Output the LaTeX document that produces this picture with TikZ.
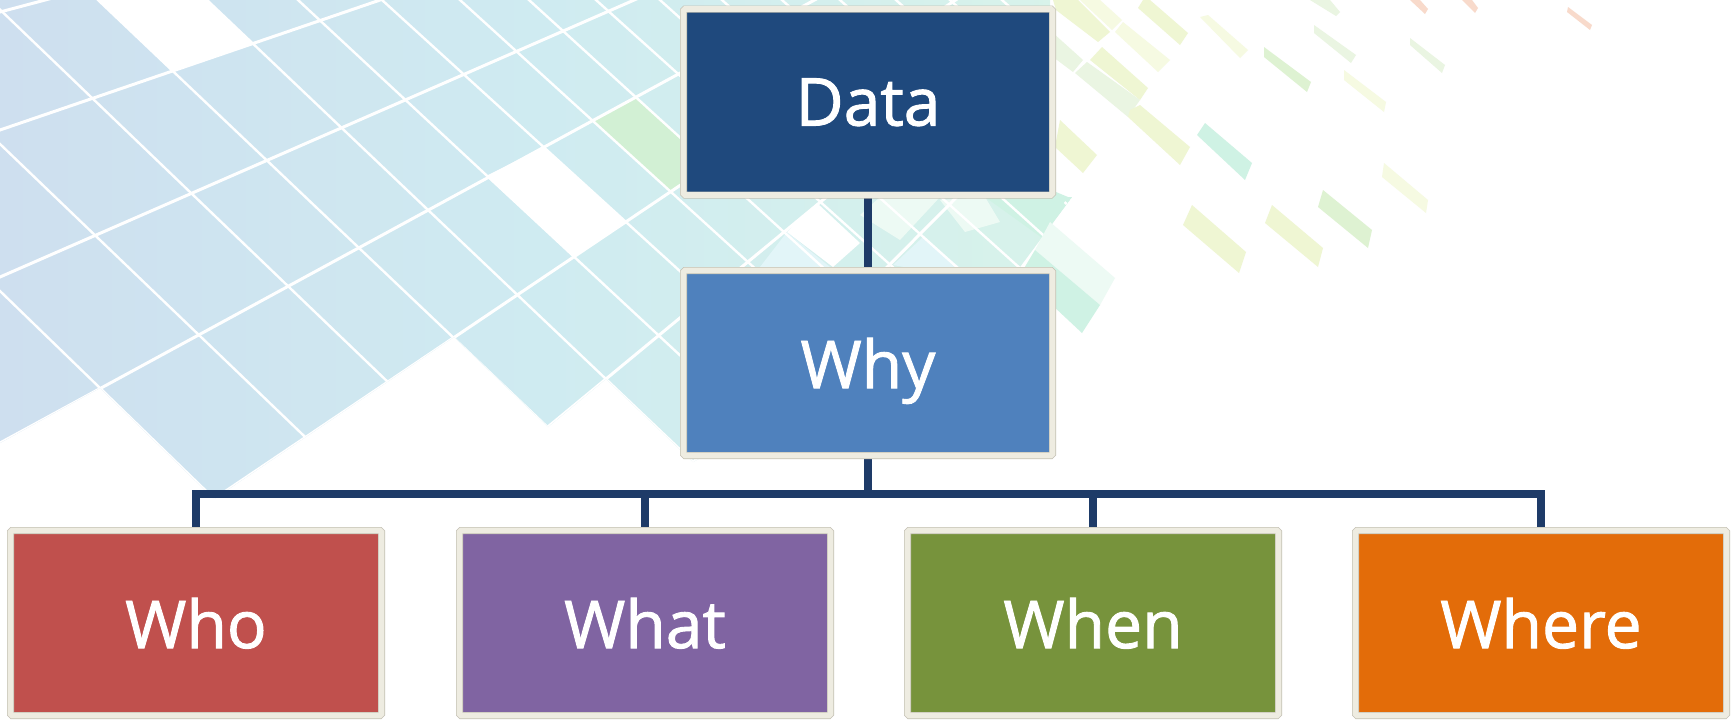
\documentclass[tikz,border=0pt]{standalone}
\usepackage{fontspec}
\setmainfont{Open Sans}[FakeBold=1.4]
\definecolor{cream}{HTML}{EEECE1}
\definecolor{edgegray}{HTML}{C4C1B4}
\definecolor{conncol}{HTML}{1E3B68}
\definecolor{cdata}{HTML}{1F497D}
\definecolor{cwhy}{HTML}{4F81BD}
\definecolor{cwho}{HTML}{C0504D}
\definecolor{cwhat}{HTML}{8064A2}
\definecolor{cwhen}{HTML}{77933C}
\definecolor{cwhere}{HTML}{E36C09}
\definecolor{mblue}{HTML}{CEDFEF}
\definecolor{mcyan}{HTML}{CFEBF1}
\definecolor{mmint}{HTML}{D8F3EA}
\definecolor{tgreen}{HTML}{D2F0D4}
\definecolor{tmint}{HTML}{CFF2E4}
\definecolor{tmintl}{HTML}{EDFAF4}
\definecolor{tyel}{HTML}{EFF6D3}
\definecolor{tyell}{HTML}{F6FAE2}
\definecolor{tgrn2}{HTML}{DEF2D2}
\definecolor{tgrnl}{HTML}{EAF5E2}
\definecolor{torange}{HTML}{F8DACB}
\definecolor{tcyanl}{HTML}{E2F5F8}
\pgfdeclarehorizontalshading{mos}{100bp}{color(0bp)=(mblue); color(25bp)=(mblue); color(50bp)=(mcyan); color(75bp)=(mmint); color(100bp)=(mmint)}
\pgfdeclarelayer{background}
\pgfsetlayers{background,main}
\tikzset{
  box/.style={rectangle, draw=edgegray, double=cream, double distance=5.6pt,
    line width=0.7pt, inner sep=0pt, text=white, rounded corners=1.5pt,
    text depth=0pt, font=\fontsize{66}{72}\selectfont},
  topbox/.style={box, minimum width=369pt, minimum height=186pt},
  lowbox/.style={box, minimum width=371pt, minimum height=185pt},
  conn/.style={draw=conncol, line width=8pt, line join=miter},
  wlineA/.style={draw=white, line width=2.4pt},
  wlineB/.style={draw=white, line width=3pt},
}
\begin{document}
\begin{tikzpicture}[x=1pt,y=-1pt]
\useasboundingbox (0,0) rectangle (1734,721);

% ---------- nodes ----------
\node[topbox, fill=cdata] (data) at (868,102) {Data};
\node[topbox, fill=cwhy, minimum height=185pt] (why) at (868,363) {Why};
\node[lowbox, fill=cwho] (who) at (196,623) {Who};
\node[lowbox, fill=cwhat] (what) at (645,623) {What};
\node[lowbox, fill=cwhen] (when) at (1093,623) {When};
\node[lowbox, fill=cwhere] (where) at (1541,623) {Where};
\coordinate (bus) at (868,494);

\begin{pgfonlayer}{background}
\fill[white] (0,0) rectangle (1734,721);
% ---------- background mosaic ----------
\begin{scope}
\clip (0,0) -- (1050,0) -- (1050,197) -- (1072,197) -- (1020,267) -- (900,350) -- (693,462) -- (606,379) -- (548,427) -- (454,337) -- (214,499) -- (100,388) -- (0,443) -- cycle;
\shade[shading=mos] (0,0) -- (1050,0) -- (1050,197) -- (1072,197) -- (1020,267) -- (900,350) -- (693,462) -- (606,379) -- (548,427) -- (454,337) -- (214,499) -- (100,388) -- (0,443) -- cycle;
\fill[tgreen] (592,121) -- (636,97) -- (710,165) -- (671,192) -- cycle;
\fill[tcyanl] (760,267) -- (787,232) -- (830,267) -- cycle;
\fill[tmintl] (880,197) -- (940,197) -- (900,240) -- (860,215) -- cycle;
\fill[tmint] (985,197) -- (1072,197) -- (1045,240) -- cycle;
\fill[white] (98,0) -- (207,0) -- (252.8,43.5) -- (171.5,71) -- cycle;
\fill[white] (486,176) -- (544,147) -- (626,222) -- (574,257) -- cycle;
\fill[white] (787,232) -- (817,203) -- (860,243) -- (833,267) -- cycle;
\fill[tcyanl] (893,265) -- (923,237) -- (975,280) -- cycle;
\fill[tmintl] (940,200) -- (985,197) -- (1000,222) -- (965,232) -- cycle;
\foreach \a/\s in {-300/0.97,-150/0.96,-10/0.96,98/0.95,207/0.95,298/0.93,382/0.91,460/0.91,529/0.91,596/0.9,660/0.9,722/0.9,782/0.9,840/0.9,896/0.9,950/0.9,1002/0.9}
  \draw[wlineA] ({\a-10/\s},-10) -- ({\a+900/\s},900);
\foreach \c in {12,130,277,443,643,879,1160}
  \draw[wlineB] (1550,-400) -- ({1550-1.4*1550},{-400+1.4*(\c+400)});
\end{scope}

% ---------- pale strips right of the boxes ----------
\fill[tmint] (1040,212) -- (1056,192) -- (1068,197) -- (1050,222) -- cycle;
\fill[tmintl] (1050,222) -- (1115,278) -- (1100,305) -- (1035,250) -- cycle;
\fill[tmint] (1035,250) -- (1100,305) -- (1082,333) -- (1020,275) -- cycle;
\fill[tyel] (1053,0) -- (1078,0) -- (1110,32) -- (1098,42) -- (1056,10) -- cycle;
\fill[tyell] (1080,0) -- (1100,0) -- (1122,20) -- (1112,30) -- cycle;
\fill[tyel] (1143,0) -- (1150,0) -- (1188,33) -- (1180,45) -- (1138,8) -- cycle;
\fill[tyell] (1115,32) -- (1123,22) -- (1170,60) -- (1158,72) -- cycle;
\fill[tyel] (1090,60) -- (1102,47) -- (1148,88) -- (1140,100) -- cycle;
\fill[tgrnl] (1075,73) -- (1087,62) -- (1140,100) -- (1128,117) -- cycle;
\fill[tgrnl] (1053,33) -- (1083,60) -- (1073,72) -- (1053,57) -- cycle;
\fill[tyel] (1060,120) -- (1097,155) -- (1083,173) -- (1055,147) -- cycle;
\fill[tyel] (1130,110) -- (1140,105) -- (1190,147) -- (1180,165) -- (1128,117) -- cycle;
\fill[tmint] (1197,135) -- (1205,123) -- (1252,163) -- (1245,180) -- cycle;
\fill[tyell] (1200,17) -- (1208,15) -- (1248,50) -- (1240,58) -- cycle;
\fill[tgrn2] (1264,47) -- (1311,82) -- (1307,92) -- (1264,57) -- cycle;
\fill[tgrnl] (1314,25) -- (1356,55) -- (1351,63) -- (1314,33) -- cycle;
\fill[tgrnl] (1410,38) -- (1445,65) -- (1442,73) -- (1410,45) -- cycle;
\fill[tyell] (1344,70) -- (1386,102) -- (1384,112) -- (1344,80) -- cycle;
\fill[tyell] (1384,163) -- (1428,200) -- (1426,213) -- (1382,177) -- cycle;
\fill[tyel] (1192,205) -- (1246,252) -- (1239,273) -- (1183,225) -- cycle;
\fill[tyel] (1272,205) -- (1323,248) -- (1318,267) -- (1265,223) -- cycle;
\fill[tgrn2] (1323,190) -- (1372,230) -- (1368,248) -- (1318,207) -- cycle;
\fill[tgrnl] (1310,0) -- (1330,0) -- (1340,12) -- (1336,16) -- cycle;
\fill[torange] (1410,0) -- (1420,0) -- (1428,9) -- (1425,14) -- cycle;
\fill[torange] (1462,0) -- (1472,0) -- (1478,8) -- (1475,13) -- cycle;
\fill[torange] (1568,7) -- (1592,25) -- (1590,30) -- (1567,12) -- cycle;

% ---------- connectors ----------
\draw[conn] (data.south) -- (why.north);
\draw[conn] (why.south) -- (bus);
\draw[conn] (who.north) |- (bus) -| (where.north);
\draw[conn] (what.north) -- (what.north |- bus);
\draw[conn] (when.north) -- (when.north |- bus);
\end{pgfonlayer}
\end{tikzpicture}
\end{document}
